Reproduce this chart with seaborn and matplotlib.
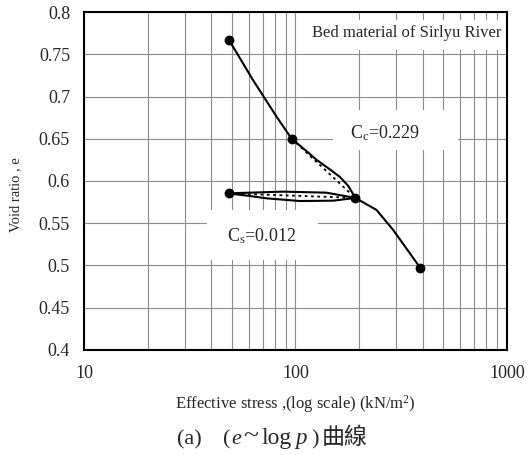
import matplotlib
matplotlib.use("Agg")
import matplotlib.pyplot as plt
from matplotlib.patches import Rectangle
from matplotlib.ticker import LogLocator, FixedLocator, NullFormatter
import seaborn as sns
import pandas as pd

sns.set_style("white")
plt.rcParams["font.family"] = ["Liberation Serif", "Noto Sans CJK TC"]
plt.rcParams["mathtext.fontset"] = "custom"
plt.rcParams["mathtext.rm"] = "Liberation Serif"
plt.rcParams["mathtext.it"] = "Liberation Serif:italic"

# Consolidation test: void ratio vs effective stress
virgin_p = [48.5, 63, 81.5, 96, 112, 126, 145, 162, 178, 192]
virgin_e = [0.767, 0.7195, 0.676, 0.650, 0.636, 0.625, 0.614, 0.605, 0.594, 0.580]

unload_p = [192, 140, 87.5, 61, 48.5]
unload_e = [0.580, 0.5862, 0.5874, 0.5862, 0.5854]

reload_p = [48.5, 51, 61, 73, 105, 151, 192]
reload_e = [0.5854, 0.5846, 0.5822, 0.5795, 0.5763, 0.5767, 0.580]

final_p = [192, 242, 290, 390]
final_e = [0.580, 0.5657, 0.542, 0.497]

point_p = [48.5, 96, 192, 48.5, 390]
point_e = [0.767, 0.650, 0.580, 0.5854, 0.497]

cc_p = [96, 192]
cc_e = [0.650, 0.580]
cs_p = [48.5, 192]
cs_e = [0.5854, 0.580]

y_ticks = [0.4, 0.45, 0.5, 0.55, 0.6, 0.65, 0.7, 0.75, 0.8]
y_labels = ["0.4", "0.45", "0.5", "0.55", "0.6", "0.65", "0.7", "0.75", "0.8"]
x_ticks = [10, 100, 1000]
x_labels = ["10", "100", "1000"]

W, H = 528, 455
fig = plt.figure(figsize=(W / 100, H / 100), dpi=100)
ax = fig.add_axes([0.159, 0.2308, 0.801, 0.7428])
ax.set_xscale("log")

grid_kw = dict(color="#8c8c8c", lw=0.8, zorder=0)
ax.xaxis.set_major_locator(FixedLocator(x_ticks))
ax.xaxis.set_minor_locator(LogLocator(base=10, subs=range(2, 10)))
ax.xaxis.set_minor_formatter(NullFormatter())
ax.grid(True, which="both", axis="x", **grid_kw)
ax.set_yticks(y_ticks)
ax.grid(True, which="major", axis="y", **grid_kw)
ax.set_axisbelow(True)

# white panels behind the annotations
for (x0, y0, w, h) in [(0.511, 0.888, 0.489, 0.088),
                       (0.589, 0.592, 0.295, 0.118),
                       (0.291, 0.266, 0.262, 0.148)]:
    ax.add_patch(Rectangle((x0, y0), w, h, transform=ax.transAxes,
                           facecolor="white", edgecolor="none", zorder=1))

line_kw = dict(color="black", lw=1.5, sort=False, estimator=None, ax=ax, zorder=3)
for p, e in [(virgin_p, virgin_e), (unload_p, unload_e),
             (reload_p, reload_e), (final_p, final_e)]:
    sns.lineplot(data=pd.DataFrame({"p": p, "e": e}), x="p", y="e", **line_kw)

for p, e in [(cc_p, cc_e), (cs_p, cs_e)]:
    sns.lineplot(data=pd.DataFrame({"p": p, "e": e}), x="p", y="e",
                 color="black", lw=1.3, linestyle=(0, (1.5, 2.0)),
                 sort=False, estimator=None, ax=ax, zorder=3)

sns.scatterplot(x=point_p, y=point_e, color="black", s=50,
                edgecolor="black", linewidth=0, ax=ax, zorder=4)

ax.set_xlim(10, 1000)
ax.set_ylim(0.4, 0.8)
ax.set_xticklabels(x_labels)
ax.set_yticklabels(y_labels)
ax.tick_params(axis="both", which="both", length=0, labelsize=13)
ax.tick_params(axis="x", pad=11)
ax.tick_params(axis="y", pad=10)

for s in ax.spines.values():
    s.set_color("black")
    s.set_linewidth(1.5)

ax.set_xlabel(r"Effective stress ,(log scale) (kN/m$\mathregular{^2}$)",
              fontsize=12, labelpad=8)
ax.set_ylabel("Void ratio , e", fontsize=10.5)
ax.yaxis.set_label_coords(-0.146, 0.46)

ax.text(0.986, 0.938, "Bed material of Sirlyu River", transform=ax.transAxes,
        ha="right", va="center", fontsize=12, zorder=5)
ax.text(0.713, 0.642, r"$\mathregular{C_c}$=0.229", transform=ax.transAxes,
        ha="center", va="center", fontsize=13, zorder=5)
ax.text(0.421, 0.337, r"$\mathregular{C_s}$=0.012", transform=ax.transAxes,
        ha="center", va="center", fontsize=13, zorder=5)

# caption, set piece by piece on a common baseline
caption = [
    ("(a)", 177, "normal", ["Liberation Serif"], 16),
    ("(", 223, "normal", ["Liberation Serif"], 16),
    ("e", 231, "italic", ["Liberation Serif"], 16),
    ("~", 243, "normal", ["Liberation Serif"], 20),
    ("log", 261, "normal", ["Liberation Serif"], 17),
    ("p", 295, "italic", ["Liberation Serif"], 16.5),
    (")", 311, "normal", ["Liberation Serif"], 16),
    ("曲線", 322, "normal", ["Noto Sans CJK TC"], 16.5),
]
base_y = 1 - 444 / H
for txt, px, style, fam, size in caption:
    fig.text(px / W, base_y, txt, ha="left", va="baseline",
             fontsize=size, style=style, family=fam)

fig.savefig("out.png", dpi=100, facecolor="white")
